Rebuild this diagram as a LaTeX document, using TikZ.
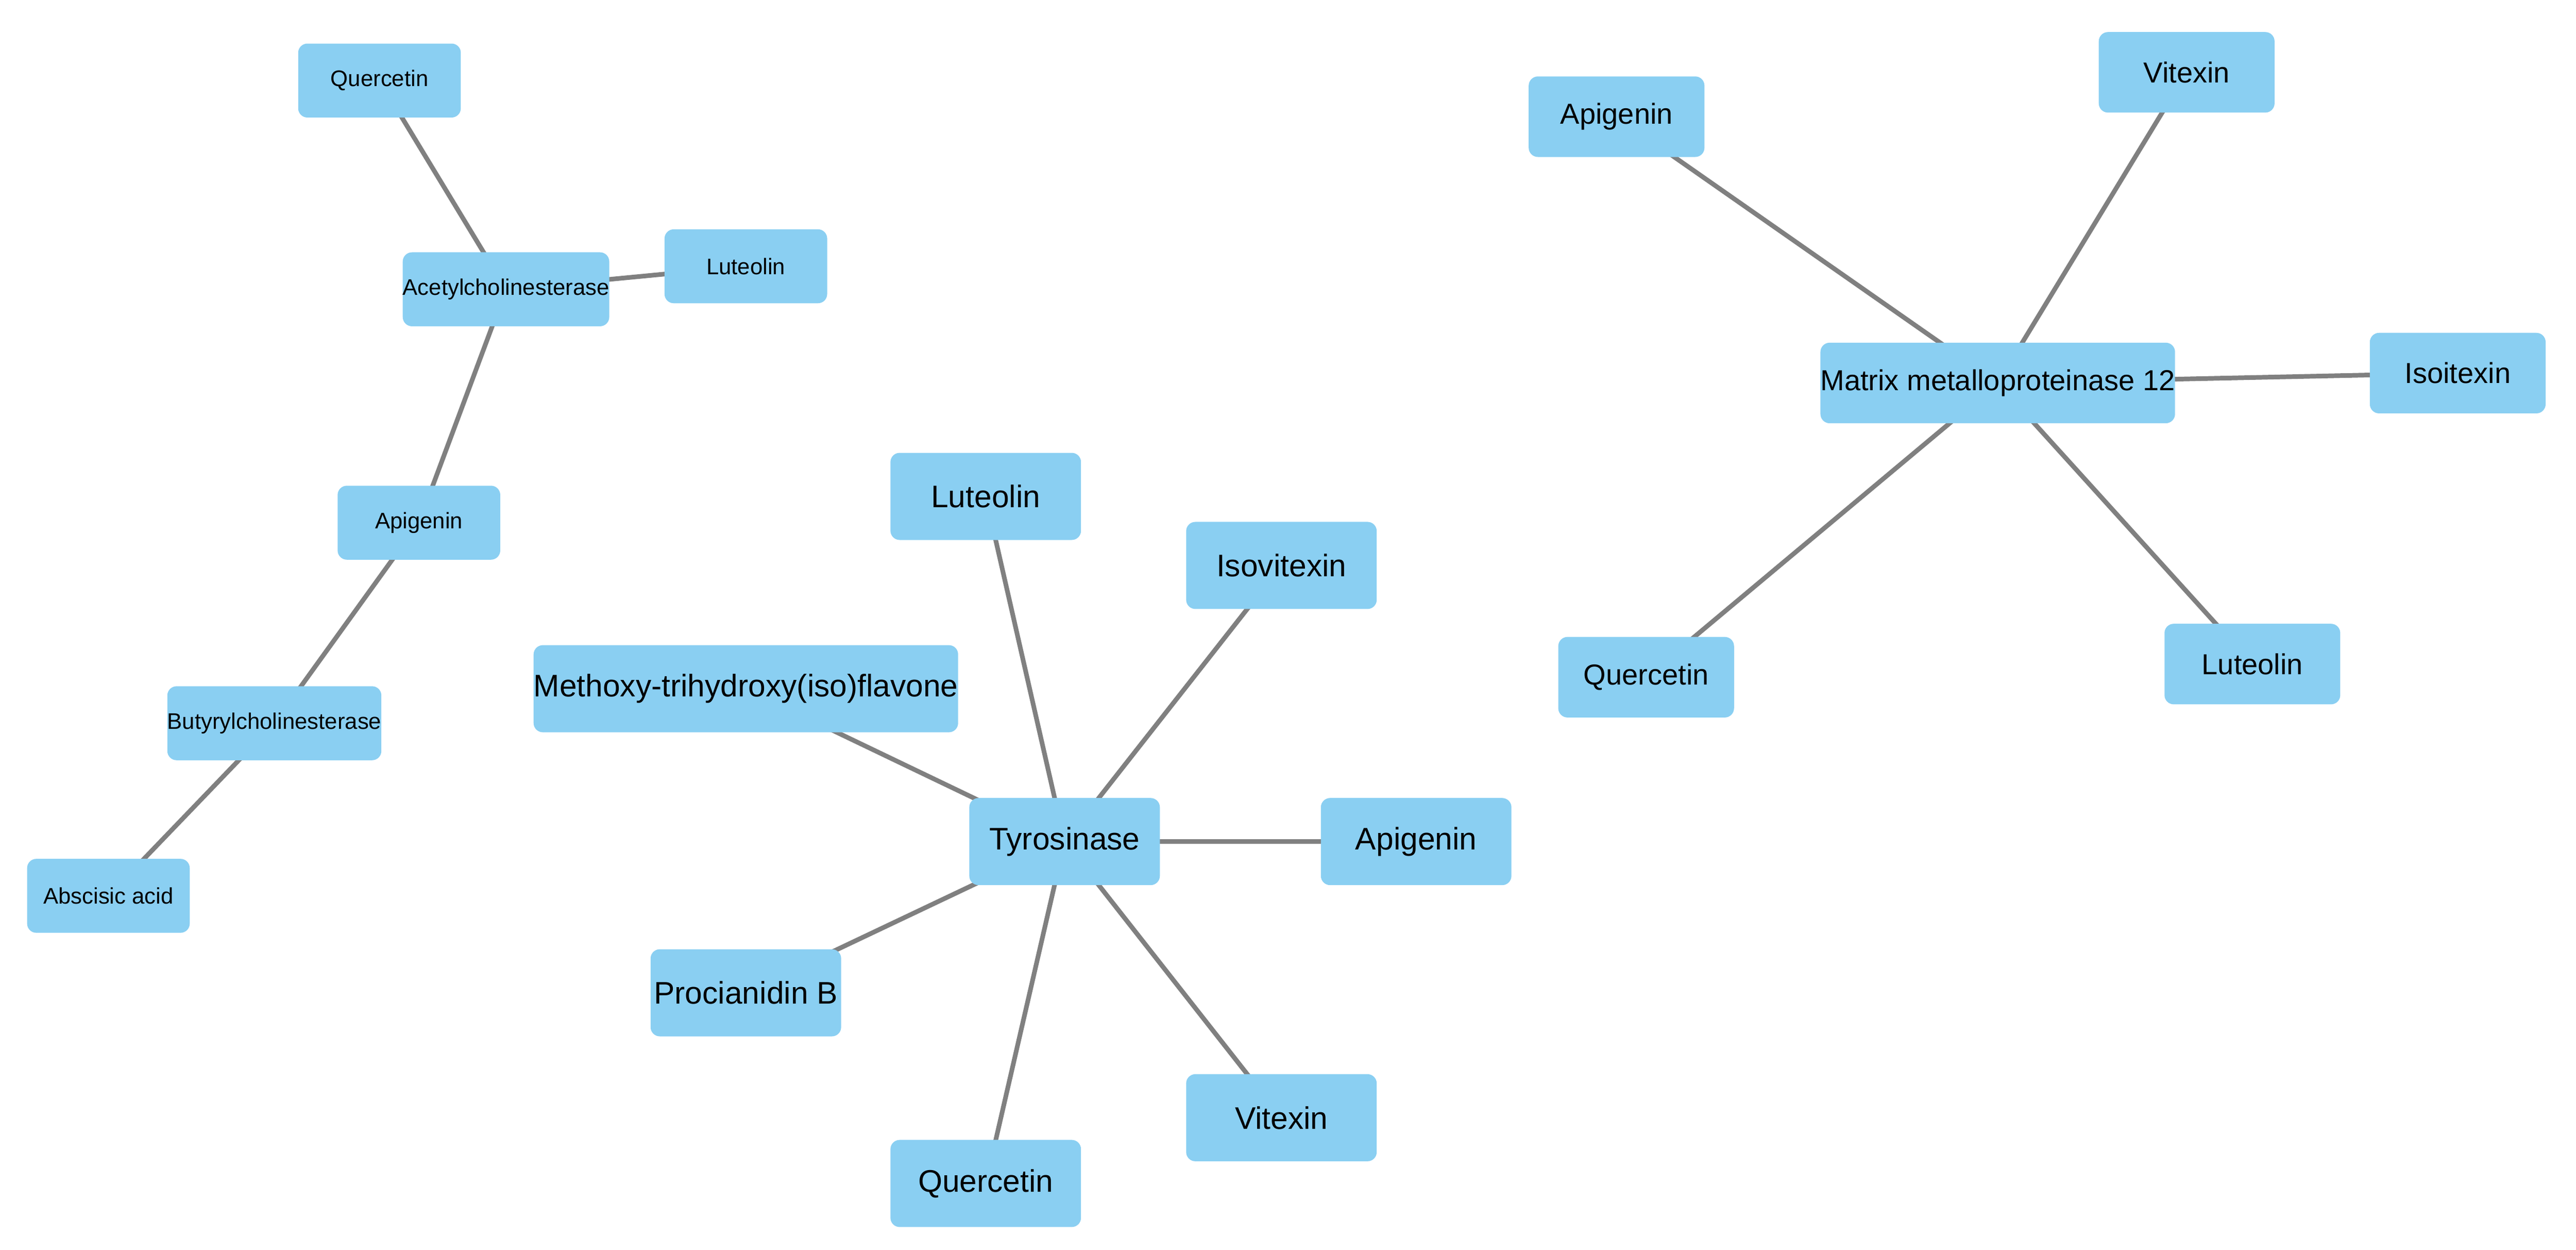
\documentclass[tikz,border=0pt]{standalone}
\usepackage{fontspec}
\setmainfont{Liberation Sans}
\usetikzlibrary{backgrounds}
\definecolor{boxc}{RGB}{138,207,242}
\definecolor{edgec}{RGB}{128,128,128}
\begin{document}
\begin{tikzpicture}[x=0.1cm,y=-0.1cm,
  box/.style={fill=boxc,draw=none,rounded corners=16pt,inner sep=0pt,align=center},
  bs/.style={box,minimum width=99mm,minimum height=45mm,font=\fontsize{39}{44}\selectfont},
  bl/.style={box,minimum width=116mm,minimum height=53mm,font=\fontsize{54}{60}\selectfont},
  bm/.style={box,minimum width=107mm,minimum height=49mm,font=\fontsize{50}{56}\selectfont},
  e/.style={draw=edgec,line width=8pt}]
\useasboundingbox (0,0) rectangle (1568,760.4);
% left
\node[bs] (q1) at (231,49) {Quercetin};
\node[bs] (ach) at (308,176) {Acetylcholinesterase};
\node[bs] (l1) at (454,162) {Luteolin};
\node[bs] (a1) at (255,318) {Apigenin};
\node[bs] (bch) at (167,440) {Butyrylcholinesterase};
\node[bs] (ab) at (66,545) {Abscisic acid};
% middle
\node[bl] (l2) at (600,302) {Luteolin};
\node[bl] (iv) at (780,344) {Isovitexin};
\node[bl] (me) at (454,419) {Methoxy-trihydroxy(iso)flavone};
\node[bl] (ty) at (648,512) {Tyrosinase};
\node[bl] (a2) at (862,512) {Apigenin};
\node[bl] (pb) at (454,604) {Procianidin B};
\node[bl] (v2) at (780,680) {Vitexin};
\node[bl] (q2) at (600,720) {Quercetin};
% right
\node[bm] (a3) at (984,71) {Apigenin};
\node[bm] (v3) at (1331,44) {Vitexin};
\node[bm] (mm) at (1216,233) {Matrix metalloproteinase 12};
\node[bm] (is) at (1496,227) {Isoitexin};
\node[bm] (q3) at (1002,412) {Quercetin};
\node[bm] (l3) at (1371,404) {Luteolin};
\begin{scope}[on background layer]
\draw[e] (q1.center) -- (ach.center);
\draw[e] (ach.center) -- (l1.center);
\draw[e] (ach.center) -- (a1.center);
\draw[e] (a1.center) -- (bch.center);
\draw[e] (bch.center) -- (ab.center);
\foreach \n in {l2,iv,me,a2,pb,v2,q2} \draw[e] (ty.center) -- (\n.center);
\foreach \n in {a3,v3,is,q3,l3} \draw[e] (mm.center) -- (\n.center);
\end{scope}
\end{tikzpicture}
\end{document}
